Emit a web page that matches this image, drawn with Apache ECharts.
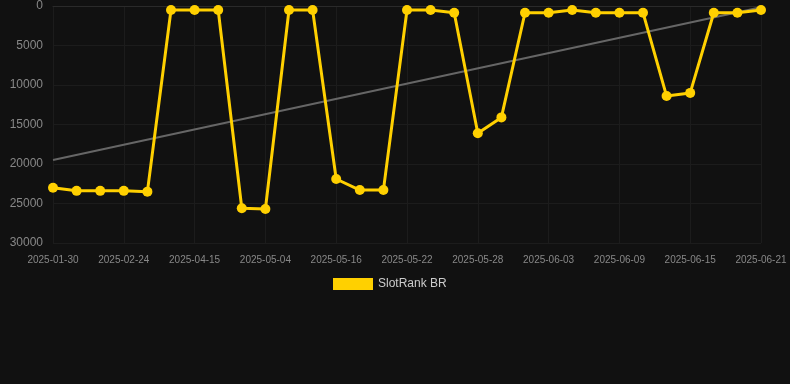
<!DOCTYPE html>
<html>
<head>
<meta charset="utf-8">
<script src="https://cdn.jsdelivr.net/npm/echarts@6/dist/echarts.min.js"></script>
<style>
html,body{margin:0;padding:0;background:#111111;}
#chart{width:790px;height:384px;}
</style>
</head>
<body>
<div id="chart"></div>
<script>
const categories = [
  '2025-01-30','2025-02-07','2025-02-16','2025-02-24','2025-03-12','2025-03-29',
  '2025-04-15','2025-04-21','2025-04-27','2025-05-04','2025-05-08','2025-05-12',
  '2025-05-16','2025-05-18','2025-05-20','2025-05-22','2025-05-24','2025-05-26',
  '2025-05-28','2025-05-30','2025-06-01','2025-06-03','2025-06-05','2025-06-07',
  '2025-06-09','2025-06-11','2025-06-13','2025-06-15','2025-06-17','2025-06-19',
  '2025-06-21'
];
const rankValues = [
  23000, 23400, 23400, 23400, 23500, 500,
  500, 500, 25600, 25700, 500, 500,
  21900, 23300, 23300, 500, 500, 850,
  16100, 14100, 850, 850, 500, 850,
  850, 850, 11400, 11000, 850, 850,
  500
];
const trendValues = [19500, 150];
const seriesName = 'SlotRank BR';

const chart = echarts.init(document.getElementById('chart'));
chart.setOption({
  backgroundColor: '#111111',
  animation: false,
  grid: { left: 53, right: 29, top: 6, bottom: 141 },
  legend: {
    data: [seriesName],
    top: 273,
    left: 328,
    itemWidth: 40,
    itemHeight: 12,
    textStyle: { color: '#cccccc', fontSize: 12, fontFamily: 'Liberation Sans, Arial, sans-serif' },
    icon: 'rect'
  },
  xAxis: {
    type: 'category',
    data: categories,
    boundaryGap: false,
    axisLine: { lineStyle: { color: '#2a2a2a' } },
    axisTick: { show: false },
    axisLabel: { interval: 2, color: '#888888', fontSize: 10, margin: 12, fontFamily: 'Liberation Sans, Arial, sans-serif' },
    splitLine: { show: true, interval: 2, lineStyle: { color: '#1c1c1c' } }
  },
  yAxis: {
    type: 'value',
    inverse: true,
    min: 0,
    max: 30000,
    interval: 5000,
    axisLine: { show: false },
    axisTick: { show: false },
    axisLabel: { color: '#888888', fontSize: 12, margin: 10, formatter: v => String(v), fontFamily: 'Liberation Sans, Arial, sans-serif' },
    splitLine: { lineStyle: { color: '#1c1c1c' } }
  },
  series: [
    {
      name: seriesName,
      type: 'line',
      data: rankValues,
      symbol: 'circle',
      symbolSize: 10,
      lineStyle: { color: '#FFD000', width: 3 },
      itemStyle: { color: '#FFD000' },
      z: 3
    },
    {
      name: 'trend',
      type: 'line',
      data: [[categories[0], trendValues[0]], [categories[categories.length - 1], trendValues[1]]],
      symbol: 'none',
      lineStyle: { color: '#666666', width: 2 },
      itemStyle: { color: '#666666' },
      z: 2,
      silent: true
    }
  ]
});
</script>
</body>
</html>
